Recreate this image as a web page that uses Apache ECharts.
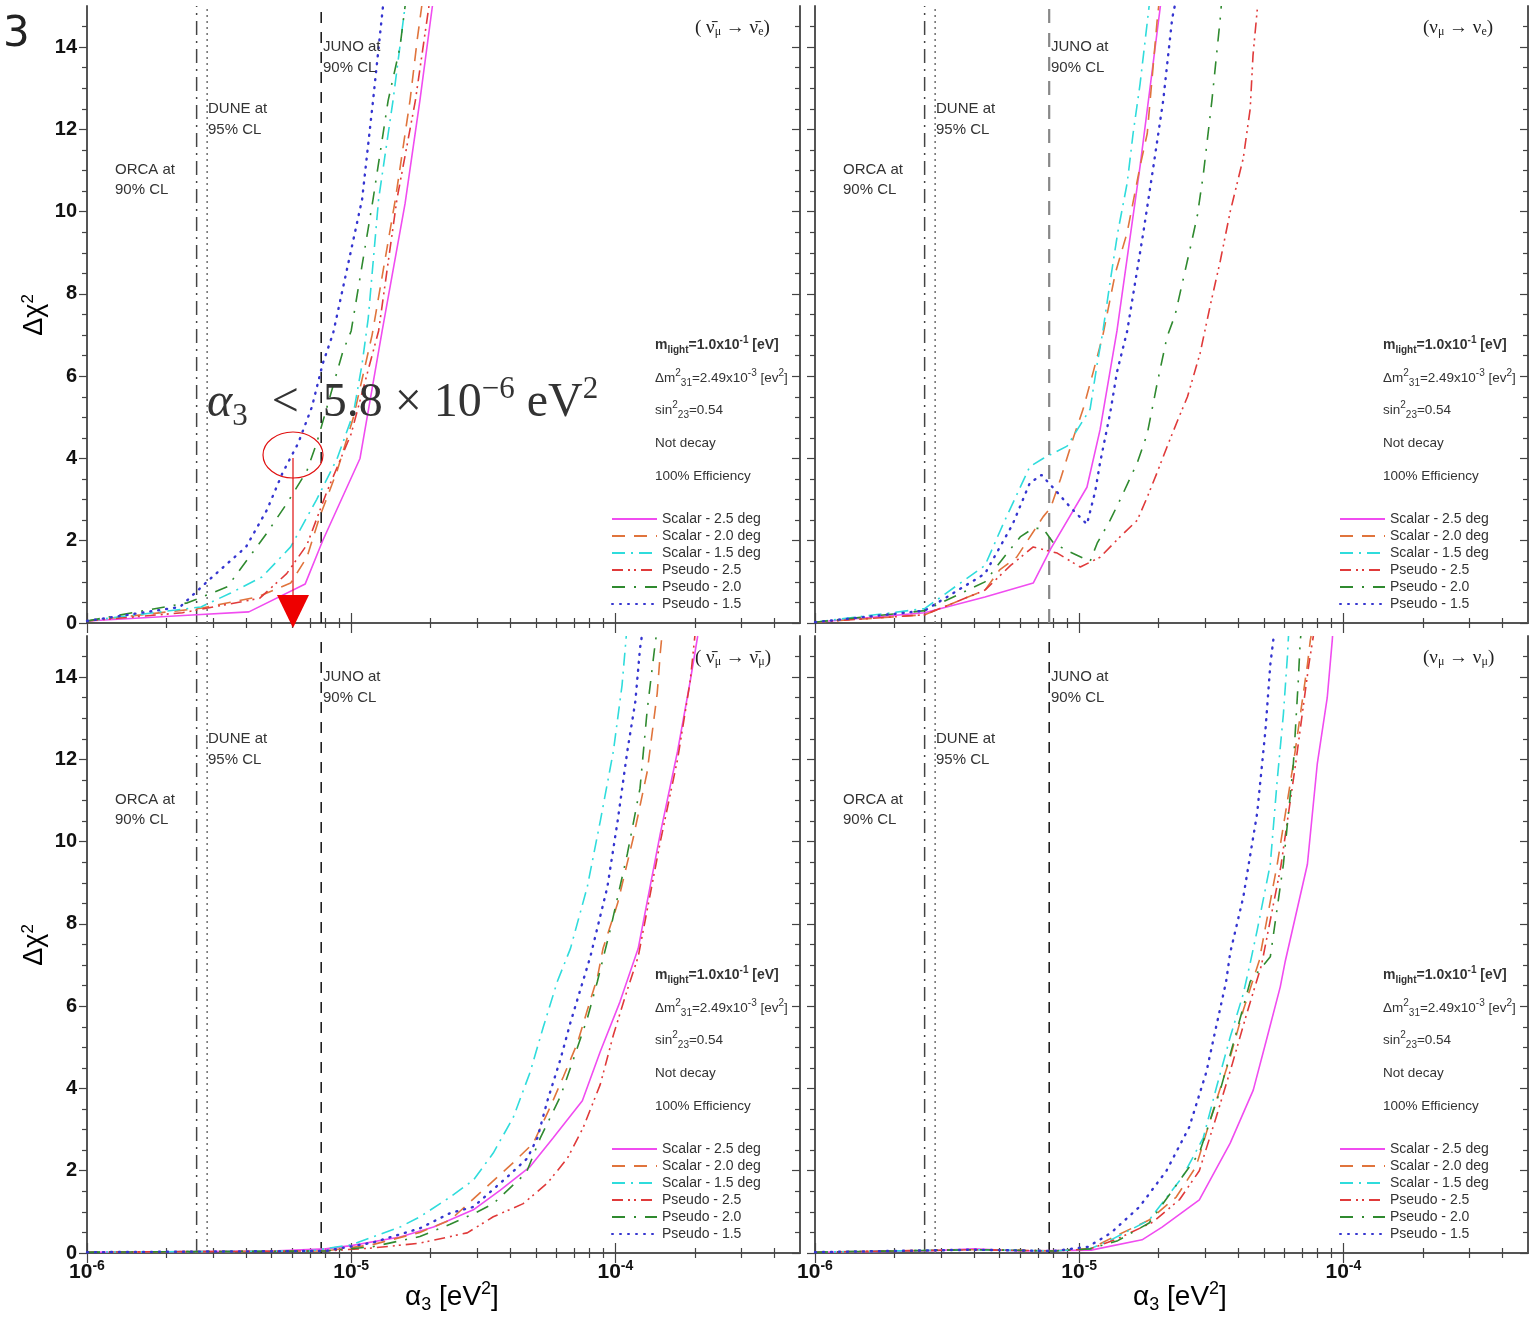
<!DOCTYPE html>
<html>
<head>
<meta charset="utf-8">
<title>Delta chi2 vs alpha3</title>
<script src="https://cdn.jsdelivr.net/npm/echarts@6/dist/echarts.min.js"></script>
<style>
  html, body { margin: 0; padding: 0; background: #fff; }
  #main { width: 1532px; height: 1318px; }
</style>
</head>
<body>
<div id="main"></div>
<script>
// ---- data: [alpha3 (eV^2), delta chi^2] ----
const seriesNames = ['Scalar - 2.5 deg', 'Scalar - 2.0 deg', 'Scalar - 1.5 deg', 'Pseudo - 2.5', 'Pseudo - 2.0', 'Pseudo - 1.5'];

// top left: anti-numu -> anti-nue
const tlScalar25 = [[1e-6,0.05],[2.6e-6,0.2],[4.1e-6,0.27],[6.7e-6,0.95],[7.8e-6,2.0],[1.08e-5,4.0],[1.31e-5,7.1],[1.6e-5,10.2],[1.82e-5,12.7],[2.03e-5,15]];
const tlScalar20 = [[1e-6,0.05],[2.7e-6,0.36],[4.4e-6,0.63],[5.9e-6,0.97],[6.8e-6,1.6],[7.6e-6,2.58],[8.85e-6,3.7],[1.02e-5,5.0],[1.2e-5,7.0],[1.47e-5,10.3],[1.67e-5,12.7],[1.78e-5,14.2],[1.85e-5,15]];
const tlScalar15 = [[1e-6,0.05],[2.7e-6,0.39],[3.5e-6,0.73],[4.6e-6,1.12],[5.9e-6,1.85],[7.4e-6,3.0],[8.85e-6,4.0],[1.02e-5,5.1],[1.1e-5,6.3],[1.16e-5,7.4],[1.27e-5,10.3],[1.44e-5,12.7],[1.6e-5,15]];
const tlPseudo25 = [[1e-6,0.05],[2.3e-6,0.25],[4.5e-6,0.6],[5.7e-6,1.2],[6.8e-6,1.9],[8.1e-6,3.2],[1.0e-5,4.6],[1.27e-5,7.1],[1.49e-5,10.3],[1.75e-5,12.7],[1.94e-5,14.7],[1.97e-5,15]];
const tlPseudo20 = [[1e-6,0.05],[2.4e-6,0.49],[3.4e-6,0.88],[4.8e-6,2.19],[5.7e-6,2.9],[6.8e-6,3.7],[7.4e-6,4.37],[8.1e-6,5.25],[9.3e-6,6.6],[1.0e-5,7.1],[1.21e-5,10.3],[1.38e-5,12.7],[1.53e-5,14],[1.6e-5,15]];
const tlPseudo15 = [[1e-6,0.05],[2.25e-6,0.39],[2.9e-6,1.05],[4.0e-6,1.85],[4.8e-6,2.75],[5.5e-6,3.65],[6.3e-6,4.37],[7.1e-6,5.25],[7.8e-6,6.3],[8.55e-6,7.05],[1.1e-5,10.3],[1.21e-5,12.7],[1.32e-5,15]];

// top right: numu -> nue
const trScalar25 = [[1e-6,0.02],[2.6e-6,0.25],[4.4e-6,0.63],[6.7e-6,0.97],[7.8e-6,1.8],[1.07e-5,3.3],[1.2e-5,4.7],[1.39e-5,7.1],[1.7e-5,11.1],[2.03e-5,15]];
const trScalar20 = [[1e-6,0.02],[2.6e-6,0.2],[4.4e-6,0.8],[5.0e-6,1.29],[5.8e-6,1.6],[7.3e-6,2.58],[7.8e-6,2.8],[8.5e-6,3.5],[9.5e-6,4.5],[1.035e-5,5.2],[1.13e-5,6.1],[1.23e-5,7.0],[1.37e-5,8.5],[1.52e-5,9.5],[1.7e-5,11.1],[1.81e-5,11.9],[1.97e-5,14.6],[2.0e-5,15]];
const trScalar15 = [[1e-6,0.02],[2.6e-6,0.35],[4.4e-6,1.4],[5.15e-6,2.4],[6.5e-6,3.8],[7.3e-6,4.0],[9.0e-6,4.3],[1.1e-5,5.2],[1.17e-5,6.3],[1.23e-5,7.1],[1.31e-5,8.3],[1.4e-5,9.5],[1.52e-5,10.7],[1.6e-5,11.9],[1.7e-5,13.1],[1.81e-5,14.6],[1.84e-5,15]];
const trPseudo25 = [[1e-6,0.02],[2.6e-6,0.2],[4.4e-6,0.8],[5.5e-6,1.4],[6.7e-6,1.85],[8.26e-6,1.7],[1.01e-5,1.36],[1.2e-5,1.6],[1.43e-5,2.1],[1.66e-5,2.5],[1.81e-5,3.06],[1.97e-5,3.65],[2.15e-5,4.28],[2.35e-5,4.9],[2.57e-5,5.5],[2.87e-5,6.56],[3.13e-5,7.7],[3.42e-5,8.8],[3.73e-5,10.0],[4.18e-5,11.3],[4.44e-5,12.5],[4.55e-5,13.8],[4.72e-5,14.9],[4.75e-5,15]];
const trPseudo20 = [[1e-6,0.02],[2.6e-6,0.3],[4.4e-6,1.0],[5.34e-6,1.7],[6.0e-6,2.1],[6.7e-6,2.3],[7.3e-6,2.3],[8.0e-6,1.94],[9.2e-6,1.73],[1.1e-5,1.5],[1.17e-5,1.94],[1.31e-5,2.5],[1.43e-5,3.0],[1.66e-5,3.9],[1.81e-5,4.6],[1.97e-5,5.8],[2.15e-5,6.95],[2.31e-5,7.5],[2.63e-5,9.1],[2.8e-5,9.9],[2.95e-5,10.9],[3.18e-5,12.7],[3.42e-5,14.7],[3.45e-5,15]];
const trPseudo15 = [[1e-6,0.02],[2.6e-6,0.3],[4.4e-6,1.2],[5.6e-6,2.4],[6.5e-6,3.4],[7.2e-6,3.6],[8.2e-6,3.2],[9.3e-6,2.8],[1.07e-5,2.4],[1.15e-5,3.2],[1.2e-5,3.9],[1.31e-5,5.1],[1.39e-5,6.1],[1.52e-5,7.1],[1.75e-5,9.5],[1.91e-5,11.1],[2.08e-5,12.7],[2.25e-5,14.7],[2.3e-5,15]];

// bottom left: anti-numu -> anti-numu
const blScalar25 = [[1e-6,0.02],[5e-6,0.05],[8e-6,0.1],[1.0e-5,0.18],[1.53e-5,0.39],[2.05e-5,0.63],[2.9e-5,1.05],[3.67e-5,1.53],[4.76e-5,2.1],[5.82e-5,2.8],[7.5e-5,3.7],[8.77e-5,4.9],[1.04e-4,6.1],[1.22e-4,7.4],[1.48e-4,10.2],[1.72e-4,12.2],[1.92e-4,13.9],[2.05e-4,15]];
const blScalar20 = [[1e-6,0.02],[8e-6,0.05],[1.2e-5,0.2],[1.82e-5,0.5],[2.37e-5,0.8],[3.16e-5,1.53],[4.11e-5,2.2],[4.89e-5,2.67],[5.67e-5,3.55],[6.35e-5,4.28],[7.18e-5,5.1],[7.83e-5,5.9],[8.55e-5,6.7],[8.98e-5,7.4],[1.02e-4,8.5],[1.17e-4,10.1],[1.32e-4,11.7],[1.44e-4,13.6],[1.48e-4,14.6],[1.5e-4,15]];
const blScalar15 = [[1e-6,0.02],[7e-6,0.05],[1.0e-5,0.2],[1.53e-5,0.63],[1.82e-5,0.88],[2.37e-5,1.36],[2.9e-5,1.77],[3.45e-5,2.43],[4.11e-5,3.3],[4.76e-5,4.4],[5.34e-5,5.5],[6.03e-5,6.6],[6.76e-5,7.4],[7.83e-5,8.9],[8.77e-5,10.5],[9.83e-5,12.2],[1.06e-4,13.8],[1.1e-4,15]];
const blPseudo25 = [[1e-6,0.02],[8e-6,0.05],[1.2e-5,0.12],[1.82e-5,0.24],[2.75e-5,0.49],[3.45e-5,0.88],[4.48e-5,1.2],[5.53e-5,1.7],[6.58e-5,2.3],[7.57e-5,3.06],[8.77e-5,4.1],[9.83e-5,5.3],[1.11e-4,6.4],[1.22e-4,7.2],[1.48e-4,10.0],[1.72e-4,12.0],[1.92e-4,13.9],[2.0e-4,15]];
const blPseudo20 = [[1e-6,0.02],[8e-6,0.05],[1.2e-5,0.15],[1.82e-5,0.4],[2.37e-5,0.7],[2.9e-5,0.95],[3.45e-5,1.2],[4.6e-5,1.95],[5.2e-5,2.8],[6.19e-5,3.8],[6.93e-5,4.7],[7.83e-5,5.7],[8.55e-5,6.6],[9.6e-5,7.9],[1.11e-4,9.7],[1.24e-4,11.3],[1.32e-4,13.2],[1.42e-4,14.9],[1.43e-4,15]];
const blPseudo15 = [[1e-6,0.02],[8e-6,0.05],[1.2e-5,0.25],[1.82e-5,0.6],[2.37e-5,0.97],[2.9e-5,1.12],[3.9e-5,1.85],[4.64e-5,2.3],[5.07e-5,2.8],[5.53e-5,3.7],[6.19e-5,4.7],[6.76e-5,5.6],[7.37e-5,6.4],[8.04e-5,7.2],[9.33e-5,8.9],[1.02e-4,10.5],[1.11e-4,12.2],[1.19e-4,13.4],[1.24e-4,14.7],[1.26e-4,15]];

// bottom right: numu -> numu
const brScalar25 = [[1e-6,0.02],[2.6e-6,0.05],[4e-6,0.1],[6e-6,0.05],[1.11e-5,0.07],[1.73e-5,0.32],[2.06e-5,0.63],[2.85e-5,1.29],[3.73e-5,2.67],[4.56e-5,3.96],[5.15e-5,5.25],[5.77e-5,6.47],[6.03e-5,7.1],[7.31e-5,9.45],[7.97e-5,11.9],[8.69e-5,13.5],[9.08e-5,14.9],[9.1e-5,15]];
const brScalar20 = [[1e-6,0.02],[4e-6,0.08],[8e-6,0.05],[1.1e-5,0.1],[1.35e-5,0.39],[1.84e-5,0.8],[2.33e-5,1.36],[2.77e-5,2.1],[3.22e-5,3.48],[3.73e-5,4.76],[4.18e-5,5.9],[4.8e-5,7.1],[5.62e-5,9.45],[6.47e-5,11.9],[7.31e-5,14.3],[7.5e-5,14.9],[7.55e-5,15]];
const brScalar15 = [[1e-6,0.02],[4e-6,0.08],[8e-6,0.05],[1.1e-5,0.1],[1.32e-5,0.32],[1.84e-5,0.8],[2.46e-5,1.85],[2.95e-5,2.8],[3.3e-5,4.0],[3.73e-5,5.25],[4.18e-5,6.3],[4.44e-5,7.05],[4.72e-5,7.85],[5.29e-5,9.45],[5.62e-5,11.5],[5.93e-5,13.1],[6.14e-5,14.5],[6.2e-5,15]];
const brPseudo25 = [[1e-6,0.02],[4e-6,0.08],[8e-6,0.05],[1.1e-5,0.1],[1.4e-5,0.35],[1.9e-5,0.75],[2.4e-5,1.3],[2.85e-5,2.0],[3.3e-5,3.3],[3.8e-5,4.6],[4.3e-5,5.8],[4.9e-5,7.0],[5.8e-5,9.4],[6.6e-5,11.9],[7.4e-5,14.3],[7.7e-5,15]];
const brPseudo20 = [[1e-6,0.02],[4e-6,0.08],[8e-6,0.05],[1.1e-5,0.1],[1.4e-5,0.3],[1.84e-5,0.73],[2.85e-5,2.43],[3.42e-5,3.96],[3.93e-5,5.35],[4.44e-5,6.6],[5.29e-5,7.2],[5.93e-5,9.45],[6.47e-5,11.9],[6.75e-5,13.9],[6.87e-5,14.9],[6.9e-5,15]];
const brPseudo15 = [[1e-6,0.02],[4e-6,0.08],[8e-6,0.05],[1.08e-5,0.15],[1.32e-5,0.49],[1.69e-5,1.12],[2.14e-5,2.0],[2.61e-5,3.06],[3.03e-5,4.4],[3.3e-5,5.5],[3.6e-5,6.6],[3.73e-5,7.3],[4.18e-5,8.65],[4.72e-5,10.7],[5.07e-5,12.7],[5.29e-5,14.3],[5.43e-5,14.9],[5.45e-5,15]];

// experiment limits (vertical lines)
const orcaLimit = 2.6e-6;
const duneLimit = 2.85e-6;
const junoLimit = 7.7e-6;

// ticks
const xMajorTicks = [1e-6, 1e-5, 1e-4];
const xMinorTicks = [2e-6,3e-6,4e-6,5e-6,6e-6,7e-6,8e-6,9e-6,2e-5,3e-5,4e-5,5e-5,6e-5,7e-5,8e-5,9e-5,2e-4,3e-4,4e-4];
const yMajorTicks = [0, 2, 4, 6, 8, 10, 12, 14];
const yMinorTicks = [0.5,1,1.5,2.5,3,3.5,4.5,5,5.5,6.5,7,7.5,8.5,9,9.5,10.5,11,11.5,12.5,13,13.5,14.5];

// ---- styles ----
const SANS = '"Liberation Sans", Arial, Helvetica, sans-serif';
const SERIF = '"Liberation Serif", "Times New Roman", serif';
const seriesStyles = [
  { color: '#f04cf0', type: 'solid', width: 1.6 },
  { color: '#e0743c', type: [13, 9], width: 1.6 },
  { color: '#2fdcdc', type: [13, 6, 2, 6], width: 1.6 },
  { color: '#e03a3a', type: [11, 5, 2, 4, 2, 5], width: 1.6 },
  { color: '#2f8a2f', type: [13, 9, 2, 9], width: 1.6 },
  { color: '#3535d0', type: [1, 7], width: 2.4, cap: 'round' }
];

const panels = [
  { left: 87, top: 6, data: [tlScalar25, tlScalar20, tlScalar15, tlPseudo25, tlPseudo20, tlPseudo15],
    title: '( ν̄{s|μ} → ν̄{s|e})', xLabels: false, yLabels: true, junoGray: false },
  { left: 815, top: 6, data: [trScalar25, trScalar20, trScalar15, trPseudo25, trPseudo20, trPseudo15],
    title: '(ν{s|μ} → ν{s|e})', xLabels: false, yLabels: false, junoGray: true },
  { left: 87, top: 636, data: [blScalar25, blScalar20, blScalar15, blPseudo25, blPseudo20, blPseudo15],
    title: '( ν̄{s|μ} → ν̄{s|μ})', xLabels: true, yLabels: true, junoGray: false },
  { left: 815, top: 636, data: [brScalar25, brScalar20, brScalar15, brPseudo25, brPseudo20, brPseudo15],
    title: '(ν{s|μ} → ν{s|μ})', xLabels: true, yLabels: false, junoGray: false }
];
const PW = 713, PH = 617;
const frame = { show: true, lineStyle: { color: '#555', width: 2 } };

const grid = [], xAxis = [], yAxis = [], series = [], legend = [], graphic = [];

function xAx(g, pos, major, labels) {
  return {
    type: 'log', logBase: 10, gridIndex: g, position: pos, min: 1e-6, max: 5e-4,
    axisLine: major ? frame : { show: false },
    axisTick: { show: true, inside: true, length: major ? 10 : 5,
      customValues: major ? xMajorTicks : xMinorTicks, lineStyle: { color: '#444', width: 1.2 } },
    axisLabel: labels ? {
      show: true, customValues: xMajorTicks, margin: 6,
      formatter: v => '{b|10}{e|' + Math.round(Math.log10(v)) + '}',
      rich: {
        b: { fontSize: 21, fontWeight: 'bold', fontFamily: SANS, color: '#111', lineHeight: 26 },
        e: { fontSize: 14, fontWeight: 'bold', fontFamily: SANS, color: '#111', verticalAlign: 'top', lineHeight: 14 }
      }
    } : { show: false },
    splitLine: { show: false }
  };
}
function yAx(g, pos, major, labels) {
  const left = pos === 'left';
  return {
    type: 'value', gridIndex: g, position: pos, min: 0, max: 15,
    axisLine: major ? frame : { show: false },
    axisTick: { show: true, inside: !left, length: major ? 8 : 5,
      customValues: major ? yMajorTicks : yMinorTicks, lineStyle: { color: '#444', width: 1.2 } },
    axisLabel: labels ? { show: true, customValues: yMajorTicks, margin: 10,
      fontSize: 20, fontWeight: 'bold', fontFamily: SANS, color: '#111' } : { show: false },
    splitLine: { show: false }
  };
}

function txt(x, y, text, extra) {
  return { type: 'text', x: x, y: y, z: 100,
    style: Object.assign({ text: text, fill: '#333', fontFamily: SANS, fontSize: 15,
      align: 'left', verticalAlign: 'middle' }, extra || {}) };
}

const paramRich = {
  b: { fontSize: 14, fontWeight: 'bold', fontFamily: SANS, color: '#222', lineHeight: 20 },
  bs: { fontSize: 10, fontWeight: 'bold', fontFamily: SANS, color: '#222', verticalAlign: 'bottom', lineHeight: 9 },
  bp: { fontSize: 10, fontWeight: 'bold', fontFamily: SANS, color: '#222', verticalAlign: 'top', lineHeight: 9 },
  n: { fontSize: 13.5, fontFamily: SANS, color: '#333', lineHeight: 20 },
  p: { fontSize: 10, fontFamily: SANS, color: '#333', verticalAlign: 'top', lineHeight: 9 },
  s: { fontSize: 10, fontFamily: SANS, color: '#333', verticalAlign: 'bottom', lineHeight: 9 }
};
const paramTexts = [
  '{b|m}{bs|light}{b|=1.0x10}{bp|-1}{b| [eV]}',
  '{n|Δm}{p|2}{s|31}{n|=2.49x10}{p|-3}{n| [ev}{p|2}{n|]}',
  '{n|sin}{p|2}{s|23}{n|=0.54}',
  '{n|Not decay}',
  '{n|100% Efficiency}'
];
const paramDy = [339, 372, 404, 437, 470];

function limitLine(g, name, value, style) {
  return {
    name: name, type: 'line', xAxisIndex: 4 * g, yAxisIndex: 4 * g,
    data: [[value, 0], [value, 15]], symbol: 'none', silent: true,
    lineStyle: style, z: 2, animation: false
  };
}

panels.forEach((p, g) => {
  grid.push({ left: p.left, top: p.top, width: PW, height: PH });
  xAxis.push(xAx(g, 'bottom', true, p.xLabels), xAx(g, 'bottom', false, false),
             xAx(g, 'top', true, false), xAx(g, 'top', false, false));
  yAxis.push(yAx(g, 'left', true, p.yLabels), yAx(g, 'left', false, false),
             yAx(g, 'right', true, false), yAx(g, 'right', false, false));

  series.push(limitLine(g, 'ORCA at 90% CL', orcaLimit, { type: [14, 6, 2, 6], color: '#444', width: 1.5 }));
  series.push(limitLine(g, 'DUNE at 95% CL', duneLimit, { type: [2, 4], color: '#777', width: 1.6 }));
  series.push(limitLine(g, 'JUNO at 90% CL', junoLimit, p.junoGray
    ? { type: [14, 10], color: '#888', width: 2.2 }
    : { type: [11, 9], color: '#111', width: 1.5 }));

  p.data.forEach((d, k) => {
    const st = seriesStyles[k];
    series.push({
      name: seriesNames[k], type: 'line', xAxisIndex: 4 * g, yAxisIndex: 4 * g,
      data: d, symbol: 'none', lineStyle: Object.assign({}, st), itemStyle: { color: st.color },
      z: 3, animation: false
    });
  });

  legend.push({
    left: p.left + 519, top: p.top + 501, orient: 'vertical', selectedMode: false,
    itemWidth: 45, itemHeight: 12, itemGap: 3, data: seriesNames,
    itemStyle: { opacity: 0 },
    textStyle: { fontSize: 14, fontFamily: SANS, color: '#333', lineHeight: 12 }
  });

  // vertical line labels
  graphic.push(txt(p.left + 28, p.top + 174, 'ORCA at\n90% CL', { lineHeight: 20 }));
  graphic.push(txt(p.left + 121, p.top + 113, 'DUNE at\n95% CL', { lineHeight: 21 }));
  graphic.push(txt(p.left + 236, p.top + 51, 'JUNO at\n90% CL', { lineHeight: 21 }));
  // parameter block
  paramTexts.forEach((t, i) => graphic.push(txt(p.left + 568, p.top + paramDy[i], t, { rich: paramRich })));
  // channel title
  graphic.push(txt(p.left + 608, p.top + 22, p.title, {
    fontFamily: SERIF, fontSize: 19, fill: '#222',
    rich: { s: { fontSize: 12, fontFamily: SERIF, color: '#222', verticalAlign: 'bottom', lineHeight: 12 } }
  }));
});

// axis names
[315, 945].forEach(cy => graphic.push({
  type: 'text', x: 35, y: cy, rotation: Math.PI / 2, z: 100,
  style: { text: '{a|Δχ}{p|2}', align: 'center', verticalAlign: 'middle',
    rich: { a: { fontSize: 27, fontFamily: SANS, color: '#222', lineHeight: 30 },
            p: { fontSize: 17, fontFamily: SANS, color: '#222', verticalAlign: 'top', lineHeight: 15 } } }
}));
[452, 1180].forEach(cx => graphic.push({
  type: 'text', x: cx, y: 1297, z: 100,
  style: { text: '{a|α}{s|3}{a| [eV}{p|2}{a|]}', align: 'center', verticalAlign: 'middle',
    rich: { a: { fontSize: 28, fontFamily: SANS, color: '#222', lineHeight: 34 },
            s: { fontSize: 18, fontFamily: SANS, color: '#222', verticalAlign: 'bottom', lineHeight: 16 },
            p: { fontSize: 18, fontFamily: SANS, color: '#222', verticalAlign: 'top', lineHeight: 16 } } }
}));

// panel number, partly cut off in the source
graphic.push(txt(3, 35, '3', { fontSize: 42, fill: '#222', fontFamily: '"DejaVu Sans", sans-serif' }));

// bound annotation in the top left panel
graphic.push(txt(207, 403, '{it|α}{sb|3}{m|  <  5.8 × 10}{sp|−6}{m| eV}{sp|2}', {
  rich: {
    it: { fontSize: 48, fontFamily: SERIF, fontStyle: 'italic', color: '#333', lineHeight: 58 },
    m: { fontSize: 48, fontFamily: SERIF, color: '#333', lineHeight: 58 },
    sb: { fontSize: 31, fontFamily: SERIF, color: '#333', verticalAlign: 'bottom', lineHeight: 29 },
    sp: { fontSize: 31, fontFamily: SERIF, color: '#333', verticalAlign: 'top', lineHeight: 29 }
  }
}));
graphic.push({ type: 'ellipse', z: 100, shape: { cx: 293, cy: 455, rx: 30, ry: 23 },
  style: { fill: 'none', stroke: '#e01010', lineWidth: 1.2 } });
graphic.push({ type: 'line', z: 100, shape: { x1: 293, y1: 458, x2: 293, y2: 598 },
  style: { stroke: '#e01010', lineWidth: 1.2 } });
graphic.push({ type: 'polygon', z: 100, shape: { points: [[277, 595], [309, 595], [293, 628]] },
  style: { fill: '#ee0000' } });

const chart = echarts.init(document.getElementById('main'), null, { renderer: 'canvas' });
chart.setOption({
  backgroundColor: '#fff',
  animation: false,
  grid: grid,
  xAxis: xAxis,
  yAxis: yAxis,
  legend: legend,
  series: series,
  graphic: graphic
});
</script>
</body>
</html>
